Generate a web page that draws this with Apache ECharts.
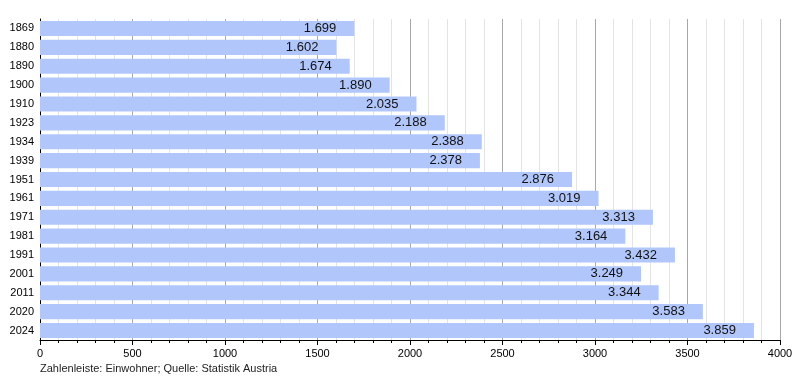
<!DOCTYPE html>
<html><head><meta charset="utf-8">
<script src="https://cdn.jsdelivr.net/npm/echarts@6/dist/echarts.min.js"></script>
<style>html,body{margin:0;padding:0;background:#fff}#c{width:800px;height:380px}</style>
</head><body><div id="c"></div>
<script>
const years = ['1869','1880','1890','1900','1910','1923','1934','1939','1951','1961','1971','1981','1991','2001','2011','2020','2024'];
const population = [1699,1602,1674,1890,2035,2188,2388,2378,2876,3019,3313,3164,3432,3249,3344,3583,3859];
const xTicks = {min:0, max:4000, interval:500};
const footnote = 'Zahlenleiste: Einwohner; Quelle: Statistik Austria';

const fmt = v => (v/1000).toFixed(3);
const chart = echarts.init(document.getElementById('c'), null, {renderer:'canvas'});
chart.setOption({
  animation:false,
  textStyle:{fontFamily:'Liberation Sans, Arial, sans-serif'},
  grid:{left:40, right:20, top:19, bottom:40, containLabel:false},
  graphic:[{type:'text', left:40, top:363, style:{text:footnote, font:'11px Liberation Sans, Arial, sans-serif', fill:'#222'}}],
  xAxis:{type:'value', min:xTicks.min, max:xTicks.max, interval:xTicks.interval,
    axisLine:{show:true, lineStyle:{color:'#000', width:1}},
    axisTick:{show:true, length:5, lineStyle:{color:'#000'}},
    minorTick:{show:true, splitNumber:5, length:3, lineStyle:{color:'#000'}},
    axisLabel:{color:'#000', fontSize:11, margin:8, formatter:v=>String(v)},
    splitLine:{show:true, lineStyle:{color:'#a8a8a8', width:1}},
    minorSplitLine:{show:true, lineStyle:{color:'#e4e4e4', width:1}}
  },
  yAxis:{type:'category', data:years, inverse:true,
    axisLine:{show:true, lineStyle:{color:'#000', width:1}},
    axisTick:{show:false},
    axisLabel:{color:'#000', fontSize:11, margin:6}
  },
  series:[{type:'bar', data:population, barCategoryGap:'20%',
    itemStyle:{color:'#b1c7fb'},
    label:{show:true, position:'insideRight', distance:18, color:'#111', fontSize:13,
      formatter:p=>fmt(p.value)}
  }]
});
</script></body></html>
